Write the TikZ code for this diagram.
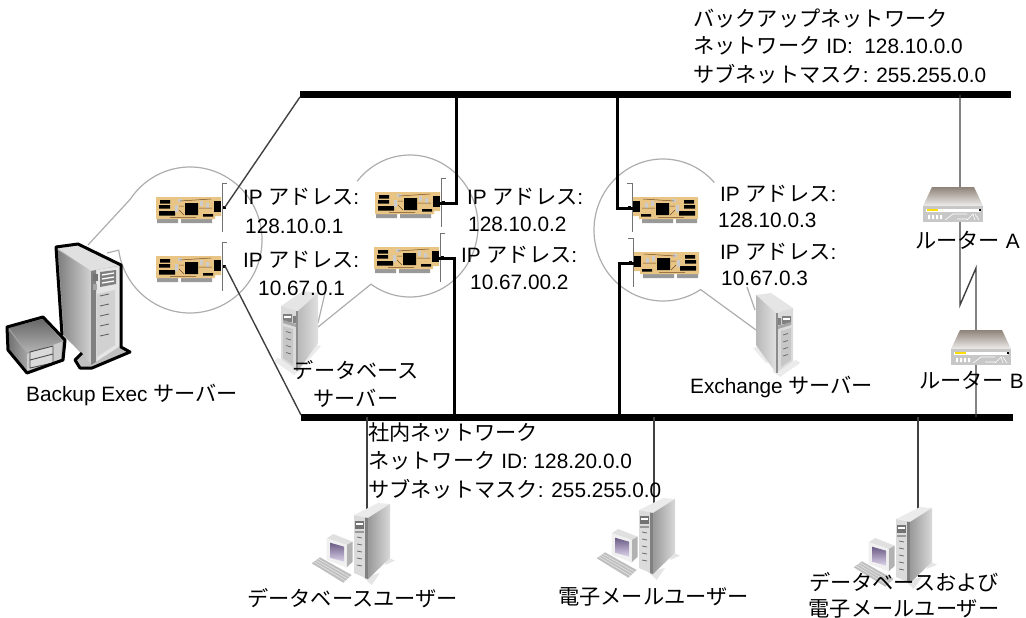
\documentclass[tikz,border=0pt]{standalone}
\usepackage{fontspec}
\setmainfont{Liberation Sans}
\newfontfamily\cjk[Scale=1.02]{Noto Sans CJK JP}
\newcommand{\J}[1]{{\cjk #1}}
\tikzset{
  lbl/.style={anchor=west,inner sep=0pt,font=\fontsize{20.8}{24}\selectfont,text=black},
  clbl/.style={lbl,anchor=center},
  bus/.style={line width=7pt,black},
  thinlink/.style={line width=1.4pt,draw=black!75},
  heavylink/.style={line width=3pt,black},
  lens/.style={line width=1.2pt,draw=black!32},
  card/.pic={
    \fill[black!40] (1,22) rectangle (22,26) (25,22) rectangle (56,26);
    \fill[cardgold] (0,0) -- (65,0) -- (65,19) -- (59,19) -- (59,22) -- (0,22) -- cycle;
    \fill[black] (4,3) rectangle (14,6.5) (3,8) rectangle (14,11.5) (3,14) rectangle (19,18.5);
    \fill[black] (29,6) rectangle (42,18) (47,17) rectangle (57,19.5);
    \fill[white!80!black] (19,8) rectangle (22,15) (22,2) rectangle (26,5) (44,4) rectangle (47,9) (50,6) rectangle (53,11);
    \draw[brown!60!black,line width=.5pt] (24,4) -- (55,2) (23,9) -- (28,9) (23,13) -- (28,18) (43,11) -- (56,11) (14,20.5) -- (40,20.5);
    \fill[black] (58,4) rectangle (65,15);
    \fill[black] (67,9) rectangle (70,12);
    \draw[line width=1pt,black!55] (71,-14) -- (66,-14) -- (66,35);
    \coordinate (-jack) at (62,11);
    \coordinate (-dot) at (69,10);
  },
  smalltower/.pic={
    \fill[black!8] (-23,35) -- (-16,33) -- (-2,48) -- (-10,50) -- cycle;
    \fill[black!8] (-4,58) -- (20,47) -- (24,50) -- (4,64) -- cycle;
    \fill[black!10] (0,0) -- (-20,-18) -- (-5,-20) -- (17,-5) -- cycle;
    \shade[left color=black!28,right color=black!12] (0,0) -- (-20,-18) -- (-20,32) -- (0,60) -- cycle;
    \fill[black!14] (0,0) -- (17,-5) -- (17,48) -- (0,60) -- cycle;
    \fill[black!45] (0,0) -- (2,0) -- (2,60) -- (0,60) -- cycle;
    \fill[black!50] (2,5) rectangle (5,12) (6,3) rectangle (15,11);
    \fill[white] (7,5) rectangle (14,7);
    \fill[black!35] (2,13) -- (15,9) -- (15,12) -- (2,16) -- cycle;
    \fill[black!22] (5,18) -- (15,15) -- (15,47) -- (5,54) -- cycle;
    \foreach \yy in {22,29,36,43} \draw[black!60,line width=.7pt] (7,\yy) -- (12,\yy-1.5);
  },
  usertower/.pic={
    \fill[black!10] (31,50) -- (41,45.7) -- (33,42) -- cycle;
    \fill[black!10] (9,62) -- (26,58) -- (17.7,70) -- cycle;
    \fill[black!25] (-42.3,48.3) -- (-34,42.3) -- (-2.3,60) -- (-10.7,67.7) -- cycle;
    \foreach \kk in {.25,.5,.75}
      \draw[black!10,line width=.6pt] ($(-42.3,48.3)!\kk!(-34,42.3)$) -- ($(-10.7,67.7)!\kk!(-2.3,60)$);
    \fill[black!12] (-27.3,23.3) -- (-20.7,19) -- (-1.3,26.7) -- (-7.3,30) -- cycle;
    \fill[black!30] (-7.3,30) -- (-1.3,26.7) -- (-1.3,46.7) -- (-7.3,52.3) -- cycle;
    \fill[black!6] (-27.3,23.3) -- (-7.3,30) -- (-7.3,52.3) -- (-27.3,45) -- cycle;
    \shade[top color=screentop,bottom color=screenlow] (-24,27.7) -- (-10,31.7) -- (-10,46.7) -- (-24,42.7) -- cycle;
    \fill[black!8] (0,0) -- (24,-12) -- (36,-11) -- (14,3) -- cycle;
    \shade[left color=black!40,right color=black!15] (14,3) -- (36,-11) -- (36,43) -- (14,64) -- cycle;
    \fill[black!14] (0,0) -- (14,3) -- (14,64) -- (0,58) -- cycle;
    \fill[black!50] (11,2.5) -- (14,3) -- (14,64) -- (11,63) -- cycle;
    \fill[black!55] (1,6) rectangle (10,14);
    \fill[white] (2,8) rectangle (9,10);
    \fill[black!40] (1,16) rectangle (10,18);
    \foreach \yy in {22,29,36,43,50} \draw[black!60,line width=.7pt] (3,\yy) -- (8,\yy+1);
  },
  routerbox/.pic={
    \shade[top color=routertop,bottom color=white!85!routertop] (9,0) -- (51,0) -- (60,19) -- (0,19) -- cycle;
    \fill[black!22] (0,19) rectangle (60,35);
    \fill[white] (3,21.5) rectangle (57,24.5);
    \fill[yellow!80!orange] (4,21.5) rectangle (15,24);
    \fill[black] (56,21.5) rectangle (58,24);
    \fill[white] (5,28) rectangle (7,32) (9,28) rectangle (11,32) (13,28) rectangle (15,32) (17,28) rectangle (19,32);
    \draw[white,line width=.6pt] (22,33) -- (30,27) -- (44,27) (34,32) -- (44,32) (44,33) -- (50,27) -- (52,33) (52,27) -- (56,33);
  }
}
\definecolor{cardgold}{HTML}{E9C585}
\definecolor{routertop}{HTML}{8F8379}
\definecolor{screentop}{HTML}{6A5A85}
\definecolor{screenlow}{HTML}{DDD4EA}
\usetikzlibrary{calc}
\begin{document}
\begin{tikzpicture}[x=1pt,y=-1pt]
\useasboundingbox (0,0) rectangle (1026,618);
% named anchor points
\coordinate (busTL) at (300,95);
\coordinate (busTR) at (1011,95);
\coordinate (busBL) at (301,417);
\coordinate (busBR) at (1013,417);
\coordinate (t2) at (456,95);
\coordinate (b2) at (454,417);
\coordinate (t3) at (617,95);
\coordinate (b3) at (619,417);
\coordinate (tr) at (960,95);
\coordinate (zigA) at (960,305);
\coordinate (zigB) at (976,268);
\coordinate (br) at (976,417);
\coordinate (u1top) at (367,417);
\coordinate (u2top) at (654,417);
\coordinate (u3top) at (918,417);
\coordinate (u1) at (367,510);
\coordinate (u2) at (654,505);
\coordinate (u3) at (918,512);
% magnifier outlines
\draw[lens] (88,245) -- ([shift={(-146:72 and 73)}]190,240) arc[start angle=-146,end angle=172,x radius=72,y radius=73] -- (107,253);
\draw[lens] ([shift={(-141:68 and 71)}]410,226) arc[start angle=-141,end angle=125,x radius=68,y radius=71] -- (318,327);
\draw[lens] (325,293) -- (318,323);
\draw[lens] ([shift={(-42:69 and 71)}]663,230) arc[start angle=-42,end angle=-303,x radius=69,y radius=71] -- (756,330);
\draw[lens] (747,287) -- (755,310);
% networks
\draw[bus] (busTL) -- (busTR);
\draw[bus] (busBL) -- (busBR);
% cards
\pic (c1a) at (156,197) {card};
\pic (c1b) at (156,256) {card};
\pic (c2a) at (375,192) {card};
\pic (c2b) at (374,247) {card};
\pic[xscale=-1] (c3a) at (698,197) {card};
\pic[xscale=-1] (c3b) at (699,252) {card};
% connectors
\draw[thinlink] (c1a-dot) -- ($(busTL)+(0,2)$);
\draw[thinlink] (c1b-dot) -- ($(busBL)+(0,-2)$);
\draw[heavylink] (c2a-jack) -| (t2);
\draw[heavylink] (c2b-jack) -| (b2);
\draw[heavylink] (c3a-jack) -| (t3);
\draw[heavylink] (c3b-jack) -| (b3);
\draw[thinlink] (tr) -- (zigA) -- (zigB) -- (br);
\draw[thinlink] (u1top) -- (u1);
\draw[thinlink] (u2top) -- (u2);
\draw[thinlink] (u3top) -- (u3);
% Backup Exec server and tape drive
\begin{scope}[line join=round]
  \fill[black!25] (62,335) -- (56,247) -- (78,244) -- (121,265) -- (121,347) -- (130,352) -- (92,368) -- (80,368) -- (75,360) -- (82,353) -- cycle;
  \fill[black!12] (56,247) -- (78,244) -- (121,265) -- (91,271) -- cycle;
  \shade[left color=black!50,right color=black!18] (58,250) -- (91,271) -- (91,364) -- (64,335) -- cycle;
  \fill[black!10] (91,271) -- (120,266) -- (120,346) -- (91,365) -- cycle;
  \fill[black!50] (91,271) -- (96,270) -- (96,362) -- (91,365) -- cycle;
  \fill[black!55] (93,274) rectangle (98,281);
  \fill[black!35] (93,284) rectangle (97,290);
  \fill[black!50] (100,272) -- (116,270) -- (116,284) -- (100,287) -- cycle;
  \draw[white,line width=1.3pt] (102,275) -- (114,273) (102,279) -- (114,277) (102,283) -- (114,281);
  \fill[black!18] (97,294) -- (115,290) -- (115,345) -- (97,357) -- cycle;
  \foreach \yy in {296,306,316,326,336} \draw[black!65,line width=.8pt] (100,\yy) -- (109,\yy-2);
  \draw[black,line width=3pt] (62,335) -- (56,247) -- (78,244) -- (121,265) -- (121,347) -- (130,352) -- (92,368) -- (80,368) -- (75,360) -- (82,353);
  \fill[black!35] (7,327) -- (43,317) -- (65,340) -- (63,360) -- (27,373) -- (8,350) -- cycle;
  \shade[top color=black!60,bottom color=black!30] (9,328) -- (43,319) -- (62,341) -- (27,352) -- cycle;
  \shade[left color=black!55,right color=black!35] (9,330) -- (27,354) -- (27,371) -- (9,349) -- cycle;
  \fill[black!20] (27,354) -- (62,342) -- (61,359) -- (27,371) -- cycle;
  \draw[black!70,line width=.9pt,fill=white!85!black] (30,352) -- (53,346) -- (53,363) -- (30,368) -- cycle;
  \draw[black!70,line width=.9pt] (30,360) -- (53,354);
  \draw[black,line width=3pt] (7,327) -- (43,317) -- (65,340) -- (63,360) -- (27,373) -- (8,350) -- cycle;
\end{scope}
% other icons
\pic[xscale=-1] (srvdb) at (298,311) {smalltower};
\pic (srvex) at (776,313) {smalltower};
\pic (pc1) at (354,515) {usertower};
\pic (pc2) at (639,510) {usertower};
\pic (pc3) at (896,519) {usertower};
\pic (ra) at (923,187) {routerbox};
\pic (rb) at (951,330) {routerbox};
% labels
\node[lbl] (n1) at (693,18) {\J{バックアップネットワーク}};
\node[lbl] (n2) at (693,46) {\J{ネットワーク} ID:\ \ 128.10.0.0};
\node[lbl] (n3) at (693,74) {\J{サブネットマスク}: 255.255.0.0};
\node[lbl] (ip1a) at (243,197) {IP \J{アドレス}:};
\node[lbl] (a1a) at (245,226) {128.10.0.1};
\node[lbl] (ip1b) at (243,260) {IP \J{アドレス}:};
\node[lbl] (a1b) at (258,288) {10.67.0.1};
\node[lbl] (ip2a) at (467,197) {IP \J{アドレス}:};
\node[lbl] (a2a) at (468,224) {128.10.0.2};
\node[lbl] (ip2b) at (461,255) {IP \J{アドレス}:};
\node[lbl] (a2b) at (470,282) {10.67.00.2};
\node[lbl] (ip3a) at (720,194) {IP \J{アドレス}:};
\node[lbl] (a3a) at (718,220) {128.10.0.3};
\node[lbl] (ip3b) at (720,252) {IP \J{アドレス}:};
\node[lbl] (a3b) at (721,278) {10.67.0.3};
\node[lbl] (tra) at (915,240) {\J{ルーター} A};
\node[lbl] (trb) at (919,380) {\J{ルーター} B};
\node[lbl] (tex) at (690,387) {Exchange \J{サーバー}};
\node[clbl] (tdb1) at (356,370) {\J{データベース}};
\node[clbl] (tdb2) at (356,398) {\J{サーバー}};
\node[lbl] (tbe) at (26,395) {Backup Exec \J{サーバー}};
\node[lbl] (c1) at (368,432) {\J{社内ネットワーク}};
\node[lbl] (c2) at (368,461) {\J{ネットワーク} ID: 128.20.0.0};
\node[lbl] (c3) at (368,489) {\J{サブネットマスク}: 255.255.0.0};
\node[lbl] (tu1) at (247,598) {\J{データベースユーザー}};
\node[lbl] (tu2) at (558,597) {\J{電子メールユーザー}};
\node[clbl] (tu3a) at (904,582) {\J{データベースおよび}};
\node[clbl] (tu3b) at (904,609) {\J{電子メールユーザー}};
\end{tikzpicture}
\end{document}
